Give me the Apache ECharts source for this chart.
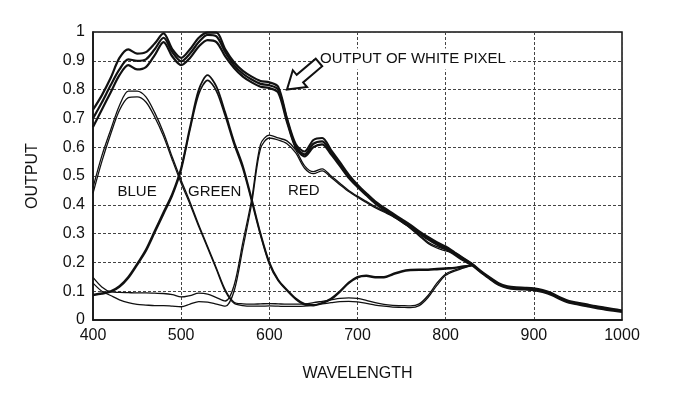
<!DOCTYPE html>
<html>
<head>
<meta charset="utf-8">
<script src="https://cdn.jsdelivr.net/npm/echarts@6/dist/echarts.min.js"></script>
<style>
  html, body { margin: 0; padding: 0; background: #fff; }
  #chart { width: 700px; height: 399px; }
</style>
</head>
<body>
<div id="chart"></div>
<script>
// wavelength samples (nm)
var wavelength = [400,410,420,430,440,450,460,470,480,490,
  500,510,520,530,540,550,560,570,580,590,
  600,610,620,630,640,650,660,670,680,690,
  700,710,720,730,740,750,760,770,780,790,
  800,810,820,830,840,850,860,870,880,890,
  900,910,920,930,940,950,960,970,980,990,1000];

// output of white pixel (several traces)
var white1 = [0.73,0.78,0.84,0.91,0.94,0.925,0.93,0.96,0.995,0.94,
  0.91,0.94,0.98,0.998,0.998,0.94,0.895,0.865,0.845,0.83,
  0.825,0.81,0.70,0.61,0.585,0.625,0.632,0.59,0.548,0.505,
  0.47,0.44,0.412,0.39,0.37,0.35,0.33,0.308,0.288,0.27,
  0.255,0.235,0.215,0.195,0.17,0.148,0.128,0.117,0.113,0.112,
  0.11,0.104,0.094,0.078,0.066,0.06,0.054,0.048,0.043,0.038,0.033];
var white2 = [0.70,0.755,0.815,0.87,0.905,0.9,0.905,0.94,0.98,0.93,
  0.898,0.925,0.965,0.99,0.985,0.93,0.885,0.855,0.835,0.82,
  0.815,0.8,0.695,0.602,0.575,0.612,0.62,0.582,0.54,0.498,
  0.465,0.436,0.408,0.386,0.366,0.346,0.326,0.305,0.284,0.266,
  0.25,0.231,0.211,0.192,0.167,0.145,0.125,0.114,0.11,0.109,
  0.107,0.1,0.09,0.075,0.063,0.057,0.051,0.045,0.04,0.035,0.031];
var white3 = [0.67,0.73,0.79,0.85,0.885,0.87,0.878,0.92,0.965,0.915,
  0.885,0.91,0.95,0.972,0.965,0.915,0.875,0.845,0.825,0.81,
  0.805,0.79,0.688,0.598,0.568,0.6,0.61,0.575,0.535,0.494,
  0.462,0.433,0.405,0.383,0.363,0.343,0.322,0.301,0.28,0.262,
  0.246,0.227,0.207,0.19,0.165,0.143,0.122,0.111,0.107,0.106,
  0.104,0.097,0.087,0.072,0.06,0.054,0.048,0.042,0.037,0.032,0.028];

// colour channels, 400..830 nm
var blue1 = [0.46,0.57,0.66,0.745,0.795,0.795,0.775,0.72,0.65,0.565,
  0.485,0.41,0.33,0.255,0.18,0.105,0.062,0.056,0.055,0.056,
  0.057,0.056,0.055,0.055,0.056,0.06,0.065,0.07,0.075,0.077,
  0.075,0.068,0.06,0.054,0.051,0.05,0.049,0.056,0.085,0.128,
  0.16,0.173,0.183,0.19];
var blue2 = [0.44,0.55,0.645,0.728,0.772,0.775,0.757,0.705,0.638,0.555,
  0.475,0.402,0.324,0.25,0.175,0.1,0.058,0.05,0.048,0.048,
  0.049,0.048,0.047,0.047,0.048,0.052,0.056,0.06,0.064,0.065,
  0.063,0.058,0.052,0.048,0.045,0.044,0.043,0.05,0.078,0.12,
  0.155,0.17,0.18,0.19];
var green1 = [0.088,0.093,0.1,0.118,0.15,0.195,0.245,0.31,0.375,0.44,
  0.53,0.67,0.8,0.85,0.81,0.72,0.62,0.535,0.42,0.3,
  0.2,0.14,0.105,0.075,0.056,0.052,0.06,0.075,0.1,0.13,
  0.15,0.155,0.15,0.15,0.16,0.17,0.175,0.176,0.176,0.178,
  0.18,0.182,0.187,0.19];
var green2 = [0.085,0.09,0.097,0.114,0.145,0.19,0.238,0.302,0.367,0.432,
  0.52,0.66,0.785,0.832,0.795,0.708,0.61,0.525,0.412,0.295,
  0.195,0.137,0.102,0.072,0.053,0.05,0.058,0.072,0.097,0.127,
  0.147,0.152,0.147,0.147,0.157,0.167,0.172,0.173,0.173,0.175,
  0.177,0.18,0.185,0.19];
var red1 = [0.148,0.115,0.098,0.096,0.095,0.094,0.094,0.093,0.092,0.088,
  0.08,0.085,0.093,0.09,0.078,0.066,0.12,0.27,0.42,0.61,
  0.642,0.632,0.622,0.59,0.535,0.515,0.525,0.5,0.475,0.45,
  0.43,0.412,0.394,0.378,0.362,0.342,0.32,0.295,0.27,0.255,
  0.245,0.235,0.215,0.195];
var red2 = [0.128,0.1,0.085,0.07,0.06,0.054,0.052,0.05,0.05,0.048,
  0.046,0.055,0.064,0.062,0.055,0.048,0.1,0.25,0.405,0.595,
  0.632,0.625,0.612,0.58,0.527,0.508,0.518,0.495,0.47,0.446,
  0.426,0.408,0.39,0.375,0.36,0.34,0.318,0.292,0.266,0.25,
  0.24,0.23,0.212,0.193];

var yTicks = ['0','0.1','0.2','0.3','0.4','0.5','0.6','0.7','0.8','0.9','1'];

var FONT = '"Liberation Sans", Arial, sans-serif';

function pairs(vals) {
  return vals.map(function (v, i) { return [wavelength[i], v]; });
}

function curve(vals, width) {
  return {
    type: 'line',
    data: pairs(vals),
    showSymbol: false,
    smooth: 0.3,
    silent: true,
    lineStyle: { color: '#111', width: width }
  };
}

var chart = echarts.init(document.getElementById('chart'));
chart.setOption({
  animation: false,
  backgroundColor: '#fff',
  grid: { left: 93, right: 78, top: 32, bottom: 79, show: true, borderColor: '#111', borderWidth: 1.5, backgroundColor: 'transparent' },
  xAxis: {
    type: 'value', min: 400, max: 1000, interval: 100,
    name: 'WAVELENGTH', nameLocation: 'middle', nameGap: 46,
    nameTextStyle: { fontFamily: FONT, fontSize: 16, color: '#111' },
    axisLine: { lineStyle: { color: '#111', width: 1.5 } },
    axisTick: { show: false },
    axisLabel: {
      fontFamily: FONT, fontSize: 16, color: '#111', margin: 8,
      formatter: function (v) { return String(v); }
    },
    splitLine: { lineStyle: { color: '#444', type: [3, 2], width: 1 } }
  },
  yAxis: {
    type: 'value', min: 0, max: 1, interval: 0.1,
    name: 'OUTPUT', nameLocation: 'middle', nameGap: 52, nameRotate: 90,
    nameTextStyle: { fontFamily: FONT, fontSize: 16, color: '#111' },
    axisLine: { lineStyle: { color: '#111', width: 1.5 } },
    axisTick: { show: false },
    axisLabel: {
      fontFamily: FONT, fontSize: 16, color: '#111', margin: 8,
      formatter: function (v) { return yTicks[Math.round(v * 10)]; }
    },
    splitLine: { lineStyle: { color: '#444', type: [3, 2], width: 1 } }
  },
  series: [
    curve(blue1, 1.3), curve(blue2, 1.3),
    curve(green1, 1.8), curve(green2, 1.6),
    curve(red1, 1.3), curve(red2, 1.3),
    curve(white1, 2.2), curve(white2, 2.2), curve(white3, 2.2)
  ]
});

// annotations placed in data coordinates
function px(x, y) { return chart.convertToPixel({ gridIndex: 0 }, [x, y]); }
function label(text, x, y) {
  var p = px(x, y);
  return {
    type: 'text', x: p[0], y: p[1], z: 100,
    style: { text: text, fontFamily: FONT, fontSize: 15, fill: '#111', align: 'center', verticalAlign: 'middle' }
  };
}

var tip = px(620, 0.8);
var ux = 0.762, uy = -0.647, nx = 0.647, ny = 0.762;
function pt(along, side) { return [tip[0] + ux * along + nx * side, tip[1] + uy * along + ny * side]; }
var arrow = [pt(0, 0), pt(17, -11), pt(17, -5), pt(42, -5), pt(42, 5), pt(17, 5), pt(17, 11)];
var tail = pt(42, 0);
var textStart = px(653, 0.91);

chart.setOption({
  graphic: [
    label('BLUE', 450, 0.445),
    label('GREEN', 538, 0.445),
    label('RED', 639, 0.45),
    { type: 'line', z: 99, shape: { x1: tail[0] - 6, y1: 60, x2: textStart[0] + 4, y2: 60 }, style: { stroke: '#111', lineWidth: 1.2 } },
    {
      type: 'text', x: textStart[0], y: 59, z: 100,
      style: {
        text: 'OUTPUT OF WHITE PIXEL', fontFamily: FONT, fontSize: 15, fill: '#111',
        align: 'left', verticalAlign: 'middle', backgroundColor: '#fff', padding: [3, 4]
      }
    },
    { type: 'polygon', z: 100, shape: { points: arrow }, style: { fill: '#fff', stroke: '#111', lineWidth: 2 } }
  ]
});
</script>
</body>
</html>
